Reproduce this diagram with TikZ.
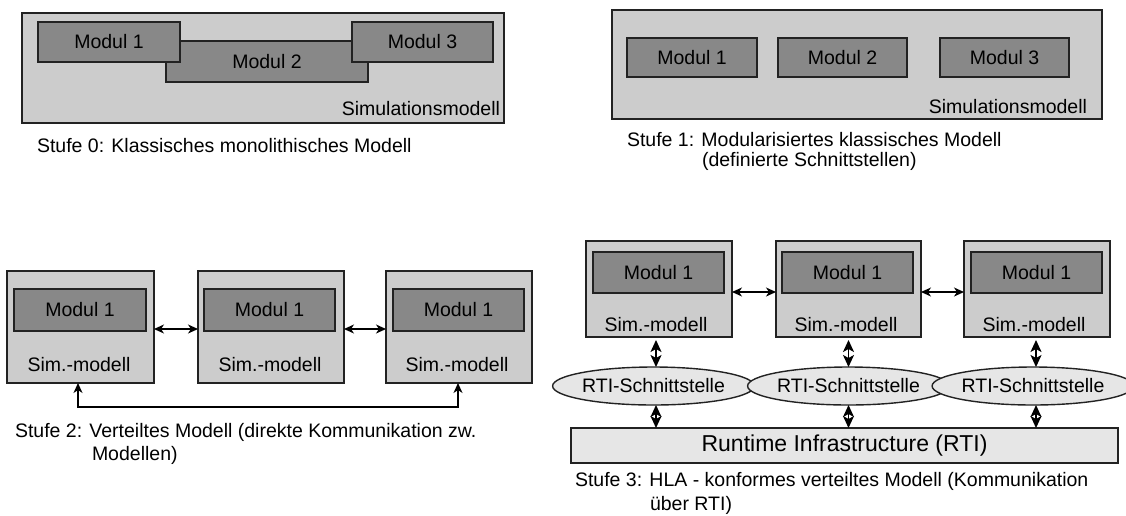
\documentclass[tikz,border=0pt]{standalone}
\usepackage{fontspec}
\setmainfont{Liberation Sans}
\usetikzlibrary{arrows.meta,shapes.geometric}
\definecolor{outerfill}{HTML}{CCCCCC}
\definecolor{modfill}{HTML}{888888}
\definecolor{lightfill}{HTML}{E6E6E6}
\definecolor{edge}{HTML}{222222}
\tikzset{
  base/.style={draw=edge, line width=1.4pt, inner sep=0pt, outer sep=0pt, font=\fontsize{19.5}{23}\selectfont},
  outerbox/.style={base, fill=outerfill},
  modbox/.style={base, fill=modfill},
  simbox/.style={base, fill=outerfill},
  ellip/.style={base, ellipse, fill=lightfill},
  rtibox/.style={base, fill=lightfill, font=\fontsize{23}{27}\selectfont},
  txt/.style={inner sep=0pt, outer sep=0pt, font=\fontsize{19.5}{23}\selectfont},
  arr/.style={line width=1.3pt, draw=black, {Stealth[length=10pt,width=9pt,inset=3pt]}-{Stealth[length=10pt,width=9pt,inset=3pt]}},
  varr/.style={line width=1.5pt, draw=black, {Stealth[length=12pt,width=11pt,inset=3pt]}-{Stealth[length=12pt,width=11pt,inset=3pt]}},
}
\begin{document}
\begin{tikzpicture}[x=1pt,y=-1pt]
\useasboundingbox (0,0) rectangle (1126,515);
% ---------- Stufe 0 ----------
\node[outerbox, minimum width=482, minimum height=110] (outerL) at (263,68) {};
\node[modbox, minimum width=202, minimum height=41] (m0b) at (267,61.5) {Modul 2};
\node[modbox, minimum width=142, minimum height=40] (m0a) at (109,42) {Modul 1};
\node[modbox, minimum width=141, minimum height=40] (m0c) at (422.5,42) {Modul 3};
\node[txt, anchor=base east] (sim0) at (500,115) {Simulationsmodell};
\node[txt, anchor=base west] (cap0) at (37,152) {Stufe 0: Klassisches monolithisches Modell};
% ---------- Stufe 1 ----------
\node[outerbox, minimum width=490, minimum height=109] (outerR) at (857,64.5) {};
\node[modbox, minimum width=130, minimum height=39] (m1a) at (692,57.5) {Modul 1};
\node[modbox, minimum width=129, minimum height=39] (m1b) at (842.5,57.5) {Modul 2};
\node[modbox, minimum width=129, minimum height=39] (m1c) at (1004.5,57.5) {Modul 3};
\node[txt, anchor=base east] (sim1) at (1087,113) {Simulationsmodell};
\node[txt, anchor=base west] (cap1a) at (627,146) {Stufe 1: Modularisiertes klassisches Modell};
\node[txt, anchor=base west] (cap1b) at (702,166) {(definierte Schnittstellen)};
% ---------- Stufe 2 ----------
\node[simbox, minimum width=147, minimum height=112] (s2a) at (80.5,327) {};
\node[simbox, minimum width=146, minimum height=112] (s2b) at (271,327) {};
\node[simbox, minimum width=146, minimum height=112] (s2c) at (459,327) {};
\node[modbox, minimum width=132, minimum height=42] (m2a) at (80,310) {Modul 1};
\node[modbox, minimum width=131, minimum height=42] (m2b) at (269.5,310) {Modul 1};
\node[modbox, minimum width=131, minimum height=42] (m2c) at (458.5,310) {Modul 1};
\node[txt, anchor=base] (l2a) at (79,371) {Sim.-modell};
\node[txt, anchor=base] (l2b) at (270,371) {Sim.-modell};
\node[txt, anchor=base] (l2c) at (457,371) {Sim.-modell};
\draw[arr] ([yshift=-2pt]s2a.east) -- ([yshift=-2pt]s2b.west);
\draw[arr] ([yshift=-2pt]s2b.east) -- ([yshift=-2pt]s2c.west);
\coordinate (lb) at (78,407);
\coordinate (rb) at (458,407);
\draw[arr] (s2a.south -| lb) -- (lb) -- (rb) -- (s2c.south -| rb);
\node[txt, anchor=base west] (cap2a) at (15,437) {Stufe 2: Verteiltes Modell (direkte Kommunikation zw.};
\node[txt, anchor=base west] (cap2b) at (92,460) {Modellen)};
% ---------- Stufe 3 ----------
\node[simbox, minimum width=146, minimum height=96] (s3a) at (659,289) {};
\node[simbox, minimum width=145, minimum height=96] (s3b) at (848.5,289) {};
\node[simbox, minimum width=146, minimum height=96] (s3c) at (1037,289) {};
\node[modbox, minimum width=131, minimum height=41] (m3a) at (658.5,272.5) {Modul 1};
\node[modbox, minimum width=131, minimum height=41] (m3b) at (847.5,272.5) {Modul 1};
\node[modbox, minimum width=131, minimum height=41] (m3c) at (1036.5,272.5) {Modul 1};
\node[txt, anchor=base] (l3a) at (656,331) {Sim.-modell};
\node[txt, anchor=base] (l3b) at (846,331) {Sim.-modell};
\node[txt, anchor=base] (l3c) at (1034,331) {Sim.-modell};
\node[ellip, minimum width=185, minimum height=38] (e1) at (653.5,386) {RTI-Schnittstelle};
\node[ellip, minimum width=187, minimum height=38] (e2) at (848.5,386) {RTI-Schnittstelle};
\node[ellip, minimum width=182, minimum height=38] (e3) at (1033,386) {RTI-Schnittstelle};
\node[rtibox, minimum width=547, minimum height=35] (rti) at (844.5,445.5) {Runtime Infrastructure (RTI)};
\draw[arr] ([yshift=-3pt]s3a.east) -- ([yshift=-3pt]s3b.west);
\draw[arr] ([yshift=-3pt]s3b.east) -- ([yshift=-3pt]s3c.west);
\draw[varr, shorten <=3pt] ([xshift=-3pt]s3a.south) -- ([xshift=-3pt]s3a.south |- e1.north);
\draw[varr, shorten <=3pt] (s3b.south) -- (s3b.south |- e2.north);
\draw[varr, shorten <=3pt] ([xshift=-1pt]s3c.south) -- ([xshift=-1pt]s3c.south |- e3.north);
\draw[varr] ([xshift=-3pt]s3a.south |- e1.south) -- ([xshift=-3pt]s3a.south |- rti.north);
\draw[varr] (s3b.south |- e2.south) -- (s3b.south |- rti.north);
\draw[varr] ([xshift=-1pt]s3c.south |- e3.south) -- ([xshift=-1pt]s3c.south |- rti.north);
\node[txt, anchor=base west] (cap3a) at (575,486) {Stufe 3: HLA - konformes verteiltes Modell (Kommunikation};
\node[txt, anchor=base west] (cap3b) at (650,510) {über RTI)};
\end{tikzpicture}
\end{document}
